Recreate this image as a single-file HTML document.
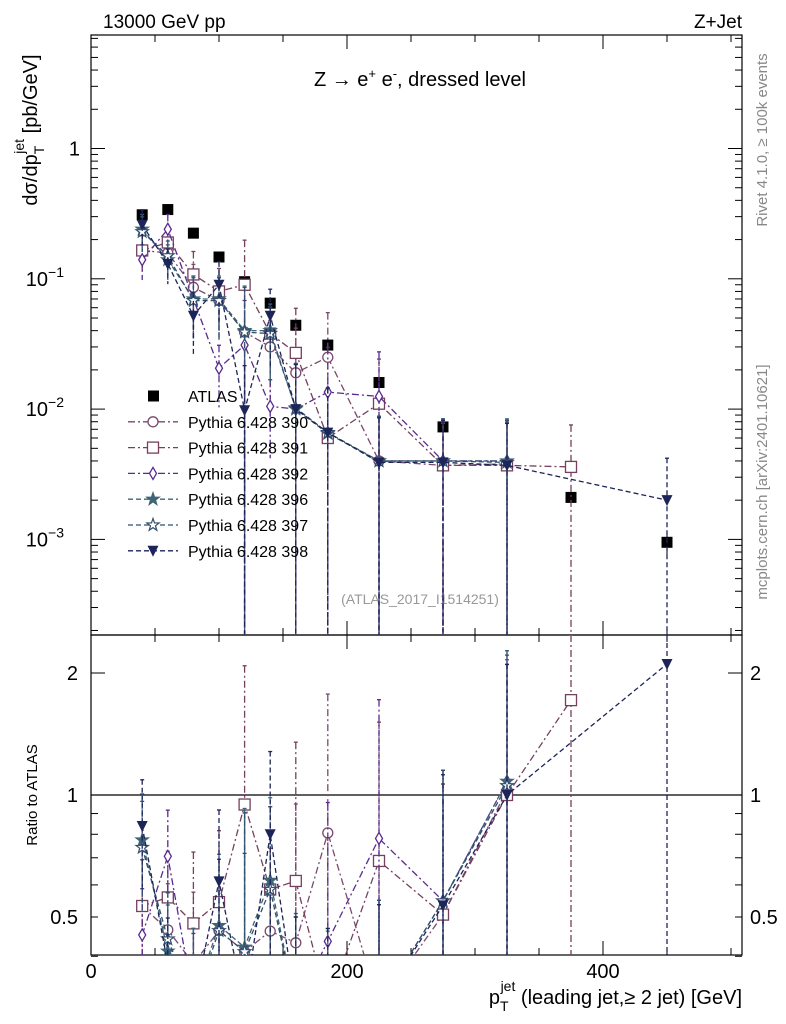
<!DOCTYPE html>
<html><head><meta charset="utf-8"><style>
html,body{margin:0;padding:0;background:#fff;overflow:hidden;width:786px;height:1024px;}
svg{display:block;overflow:hidden;}
svg text{font-family:"Liberation Sans",sans-serif;}
</style></head><body>
<svg id="c" width="786" height="1024" xmlns="http://www.w3.org/2000/svg">
<rect x="0" y="0" width="786" height="1024" fill="#fff"/>
<text x="103" y="28" font-size="19">13000 GeV pp</text>
<text x="742" y="28" font-size="19" text-anchor="end">Z+Jet</text>
<text x="420" y="86" font-size="20" text-anchor="middle">Z → e<tspan dy="-8" font-size="13">+</tspan><tspan dy="8"> e</tspan><tspan dy="-8" font-size="13">-</tspan><tspan dy="8">, dressed level</tspan></text>
<text x="420" y="604" font-size="14" fill="#999" text-anchor="middle">(ATLAS_2017_I1514251)</text>
<text transform="translate(767,140) rotate(-90)" font-size="15" fill="#888" text-anchor="middle">Rivet 4.1.0, ≥ 100k events</text>
<text transform="translate(767,482) rotate(-90)" font-size="15" fill="#888" text-anchor="middle">mcplots.cern.ch [arXiv:2401.10621]</text>
<text transform="translate(37,130) rotate(-90)" font-size="20" text-anchor="middle">dσ/dp<tspan dy="7" font-size="14">T</tspan><tspan dy="-20" dx="-8" font-size="14">jet</tspan><tspan dy="13"> [pb/GeV]</tspan></text>
<text transform="translate(37,795) rotate(-90)" font-size="15" text-anchor="middle">Ratio to ATLAS</text>
<text x="742" y="1004" font-size="20" text-anchor="end">p<tspan dy="7" font-size="14">T</tspan><tspan dy="-20" dx="-8" font-size="14">jet</tspan><tspan dy="13"> (leading jet,≥ 2 jet) [GeV]</tspan></text>
<g id="g"></g>
</svg>
<script>
const xBins=[40,60,80,100,120,140,160,185,225,275,325,375,450];
const atlas=[0.31,0.34,0.224,0.147,0.095,0.065,0.044,0.031,0.016,0.0073,0.0037,0.0021,0.00095];
const atlasErr=[0.03,0.03,0.02,0.012,0.01,0.007,0.004,0.004,0.002,0.001,0.0005,0.0003,0.0002];
const s390=[0.165,0.158,0.086,0.068,0.039,0.030,0.019,0.025,0.0040,0.0037,0.0038,null,null];
const s391=[0.165,0.19,0.108,0.080,0.090,0.038,0.027,0.0060,0.011,0.0037,0.0037,0.0036,null];
const s392=[0.14,0.24,0.07,0.0206,0.031,0.0105,0.010,0.0135,0.0125,0.0040,0.0040,null,null];
const s396=[0.24,0.14,0.07,0.07,0.040,0.040,0.010,0.0065,0.0040,0.0040,0.0040,null,null];
const s397=[0.23,0.15,0.068,0.068,0.039,0.038,0.0102,0.0066,0.0040,0.0040,0.0039,null,null];
const s398=[0.26,0.13,0.052,0.09,0.0098,0.052,0.010,0.0066,0.0039,0.0039,0.0037,null,0.0020];
const relErr=[0.3,0.3,0.5,0.5,1.2,0.6,1.2,1.2,1.2,1.1,1.1,1.1,1.1];
const yTicks=[1,0.1,0.01,0.001];
const yTickLabels=["1","10","10","10"];
const yTickExp=["","−1","−2","−3"];
const rTicks=[0.5,1,2];
const xTicks=[0,200,400];

const NS="http://www.w3.org/2000/svg";
const g=document.getElementById('g');
const L=91,R=742,T=35,M=635,B=955;
const X=v=>L+(v)*1.28;
const Y=v=>148.5-130.3*Math.log10(v);
const RY=v=>795-122*Math.log2(v);
function el(t,a,p){const e=document.createElementNS(NS,t);for(const k in a)e.setAttribute(k,a[k]);(p||g).appendChild(e);return e;}
const clipM=el('clipPath',{id:'cm'});el('rect',{x:L,y:T,width:R-L,height:M-T},clipM);
const clipR=el('clipPath',{id:'cr'});el('rect',{x:L,y:M,width:R-L,height:B-M},clipR);

let f=el('rect',{x:L,y:T,width:R-L,height:M-T,fill:'none',stroke:'#000','stroke-width':1.2});


f=el('rect',{x:L,y:M,width:R-L,height:B-M,fill:'none',stroke:'#000','stroke-width':1.2});


let l1=el('line',{x1:L,x2:R,y1:RY(1),y2:RY(1),stroke:'#000','stroke-width':1.2});



for(let v=0;v<=500;v+=50){const x=X(v);const len=v%200==0?14:7;
 [[T,1],[M,-1],[M,1],[B,-1]].forEach(([y,d])=>el('line',{x1:x,x2:x,y1:y,y2:y+d*len,stroke:'#000'}));}
xTicks.forEach(v=>{const t=el('text',{x:X(v),y:978,'font-size':20,'text-anchor':'middle'});t.textContent=v;
 
 });
for(let e=-4;e<=0;e++)for(let m=1;m<10;m++){const v=m*Math.pow(10,e);const y=Y(v);if(y<T||y>M)continue;const len=m==1?14:7;
 el('line',{x1:L,x2:L+len,y1:y,y2:y,stroke:'#000'});el('line',{x1:R,x2:R-len,y1:y,y2:y,stroke:'#000'});}
yTicks.forEach((v,i)=>{const t=el('text',{x:80,y:Y(v)+7,'font-size':20,'text-anchor':'end'});t.textContent=yTickLabels[i];
 if(yTickExp[i]){t.setAttribute('x',64);const s=el('tspan',{dy:-9,'font-size':14},t);s.textContent=yTickExp[i];}
 
 });
[0.4,0.5,0.6,0.7,0.8,0.9,1,2].forEach(v=>{const y=RY(v);const len=(v==1||v==2)?14:7;
 el('line',{x1:L,x2:L+len,y1:y,y2:y,stroke:'#000'});el('line',{x1:R,x2:R-len,y1:y,y2:y,stroke:'#000'});});
rTicks.forEach(v=>{[78,750].forEach((x,k)=>{const t=el('text',{x:x,y:RY(v)+7,'font-size':20,'text-anchor':k?'start':'end'});t.textContent=v;
 
 });});

const series=[
 {n:'390',d:s390,c:'#7a4a6e',m:'circle',dash:'7,3,2,3'},
 {n:'391',d:s391,c:'#74405e',m:'square',dash:'7,3,2,3'},
 {n:'392',d:s392,c:'#5a2a90',m:'diamond',dash:'7,3,2,3'},
 {n:'396',d:s396,c:'#3e6478',m:'starf',dash:'5,3'},
 {n:'397',d:s397,c:'#30506e',m:'star',dash:'5,3'},
 {n:'398',d:s398,c:'#1c2458',m:'tri',dash:'5,3'}];
function marker(p,type,x,y,c){
 if(type=='circle')return el('circle',{cx:x,cy:y,r:5,fill:'#fff',stroke:c,'stroke-width':1.3},p);
 if(type=='square')return el('rect',{x:x-5.5,y:y-5.5,width:11,height:11,fill:'#fff',stroke:c,'stroke-width':1.3},p);
 if(type=='diamond')return el('polygon',{points:`${x},${y-6} ${x+3.5},${y} ${x},${y+6} ${x-3.5},${y}`,fill:'#fff',stroke:c,'stroke-width':1.3},p);
 if(type=='tri')return el('polygon',{points:`${x-5.5},${y-5} ${x+5.5},${y-5} ${x},${y+6}`,fill:c},p);
 let pts=[];for(let i=0;i<10;i++){const r=i%2?2.6:6.5,a=-Math.PI/2+i*Math.PI/5;pts.push((x+r*Math.cos(a)).toFixed(1)+','+(y+r*Math.sin(a)).toFixed(1));}
 return el('polygon',{points:pts.join(' '),fill:type=='starf'?c:'#fff',stroke:c,'stroke-width':1.2},p);
}
function drawPanel(clip,yf,vals,errs,s,ratio){
 const top=ratio?M:T, bot=ratio?B:M;
 const grp=el('g',{'clip-path':`url(#${clip})`});
 
 
 let pts=[];
 vals.forEach((v,i)=>{if(v==null)return;
  const x=X(xBins[i]),y=yf(v);
  const e=errs[i];
  const lo=Math.min(bot,v-e>0?yf(v-e):bot);
  const hi=Math.max(top,yf(v+e));
  el('line',{x1:x,x2:x,y1:hi,y2:lo,stroke:s.c,'stroke-width':1.3,'stroke-dasharray':s.dash},grp);
  el('line',{x1:x-2,x2:x+2,y1:hi,y2:hi,stroke:s.c,'stroke-width':1.3},grp);
  pts.push([x,Math.max(top-50,Math.min(bot+50,y))]);});
 el('polyline',{points:pts.map(p=>p.join(',')).join(' '),fill:'none',stroke:s.c,'stroke-width':1.3,'stroke-dasharray':s.dash},grp);
 pts.forEach(p=>{if(p[1]>=top-8&&p[1]<=bot+8)marker(grp,s.m,p[0],p[1],s.c);});
}
const ag=el('g',{'clip-path':'url(#cm)'});


atlas.forEach((v,i)=>{const x=X(xBins[i]),y=Y(v);
 el('line',{x1:x,x2:x,y1:Y(v+atlasErr[i]),y2:Y(v-atlasErr[i]),stroke:'#000'},ag);
 el('rect',{x:x-5.5,y:y-5.5,width:11,height:11,fill:'#000'},ag);});
series.forEach(s=>{
 const errs=s.d.map((v,i)=>v==null?0:v*relErr[i]);
 drawPanel('cm',Y,s.d,errs,s,false);
 const r=s.d.map((v,i)=>v==null?null:v/atlas[i]);
 const re=r.map((v,i)=>v==null?0:v*relErr[i]);
 drawPanel('cr',RY,r,re,s,true);
});
const leg=[{n:'ATLAS'}].concat(series);
leg.forEach((s,i)=>{const y=396+i*25.8;
 const lg=el('g',{});
 
 
 if(i==0)el('rect',{x:148,y:y-5.5,width:11,height:11,fill:'#000'},lg);
 else{el('line',{x1:128,x2:178,y1:y,y2:y,stroke:s.c,'stroke-width':1.3,'stroke-dasharray':s.dash},lg);marker(lg,s.m,153,y,s.c);}
 const t=el('text',{x:188,y:y+6,'font-size':16},lg);t.textContent=i==0?'ATLAS':'Pythia 6.428 '+s.n;});
</script>
</body></html>
